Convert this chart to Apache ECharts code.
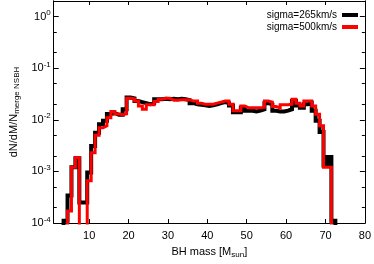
<!DOCTYPE html>
<html>
<head>
<meta charset="utf-8">
<script src="https://cdn.jsdelivr.net/npm/echarts@6/dist/echarts.min.js"></script>
<style>
html,body{margin:0;padding:0;background:#fff;}
#chart{width:374px;height:264px;}
</style>
</head>
<body>
<div id="chart"></div>
<script>
// Bin centers (BH mass, Msun), bin width 1
const massBins = [3,4,5,6,7,8,9,10,11,12,13,14,15,16,17,18,19,20,21,22,23,24,25,26,27,28,29,30,31,32,33,34,35,36,37,38,39,40,41,42,43,44,45,46,47,48,49,50,51,52,53,54,55,56,57,58,59,60,61,62,63,64,65,66,67,68,69,70,71,72,73];
// sigma = 265 km/s (black)
const sigma265 = [0,1.1e-4,3.4e-4,1.2e-3,1.8e-3,2.5e-4,2.5e-4,9.5e-4,3.1e-3,5.6e-3,8.2e-3,9.6e-3,1.3e-2,1.35e-2,1.25e-2,1.25e-2,1.6e-2,2.7e-2,2.6e-2,2.3e-2,2.2e-2,2.1e-2,2.0e-2,2.1e-2,2.5e-2,2.5e-2,2.55e-2,2.5e-2,2.55e-2,2.5e-2,2.55e-2,2.5e-2,2.4e-2,2.1e-2,2.0e-2,1.95e-2,1.9e-2,1.85e-2,1.9e-2,2.0e-2,2.1e-2,2.2e-2,2.1e-2,1.9e-2,1.4e-2,1.4e-2,1.7e-2,1.5e-2,1.5e-2,1.45e-2,1.5e-2,1.6e-2,2.1e-2,2.0e-2,1.5e-2,1.45e-2,1.45e-2,1.5e-2,1.6e-2,2.3e-2,1.9e-2,1.7e-2,2.0e-2,2.1e-2,1.5e-2,9.6e-3,5.8e-3,1.3e-3,1.9e-3,1.1e-4,0];
// sigma = 500 km/s (red)
const sigma500 = [0,0,1.7e-4,1.2e-3,1.85e-3,0,0,6.6e-4,2.3e-3,5.0e-3,7.0e-3,7.6e-3,1.1e-2,1.45e-2,1.3e-2,1.25e-2,1.3e-2,2.6e-2,2.55e-2,2.3e-2,1.85e-2,1.6e-2,1.95e-2,1.95e-2,2.25e-2,2.5e-2,2.6e-2,2.6e-2,2.4e-2,2.4e-2,2.45e-2,2.45e-2,2.45e-2,2.3e-2,2.3e-2,2.1e-2,2.0e-2,2.0e-2,2.0e-2,2.1e-2,2.2e-2,2.3e-2,2.3e-2,2.0e-2,1.5e-2,1.5e-2,1.85e-2,1.7e-2,1.7e-2,1.7e-2,1.7e-2,1.75e-2,2.3e-2,2.2e-2,1.8e-2,1.7e-2,1.95e-2,1.95e-2,2.0e-2,2.5e-2,2.1e-2,1.85e-2,2.3e-2,2.3e-2,1.85e-2,1.28e-2,7.7e-3,1.2e-3,1.2e-3,0,0];
const seriesNames = ['sigma=265km/s','sigma=500km/s'];
const xTicks = [10,20,30,40,50,60,70,80];
const yMajorTicks = [1e-4,1e-3,1e-2,1e-1,1];
const yMinorTicks = [2e-4,5e-4,2e-3,5e-3,2e-2,5e-2,0.2,0.5,2];

const FLOOR = 1e-7; // empty bins drop below the axis (clipped)
function stepPoints(vals){
  const pts = [];
  massBins.forEach((m,i)=>{
    const v = vals[i] > 0 ? vals[i] : FLOOR;
    pts.push([m-0.5, v],[m+0.5, v]);
  });
  return pts;
}
function expLabel(v){
  const e = Math.round(Math.log10(v));
  return '{b|10}{s|' + e + '}';
}
const font = 'Liberation Sans, Arial, Helvetica, sans-serif';
const axisLineStyle = {color:'#000', width:1};
const yBase = {type:'log', min:1e-4, max:2, logBase:10, splitLine:{show:false}, axisLine:{show:true, lineStyle:axisLineStyle}};

const chart = echarts.init(document.getElementById('chart'), null, {renderer:'canvas'});
chart.setOption({
  animation:false,
  backgroundColor:'#fff',
  textStyle:{fontFamily:font},
  grid:{left:37, right:5, top:1, bottom:34, containLabel:false},
  legend:{
    orient:'vertical', right:11, top:5, align:'right', itemGap:2,
    itemWidth:16, itemHeight:4, icon:'rect',
    textStyle:{fontSize:10, color:'#000', fontFamily:font},
    data:seriesNames
  },
  xAxis:[
    {type:'value', min:1, max:80, position:'bottom',
     axisLine:{show:true, onZero:false, lineStyle:axisLineStyle},
     axisTick:{show:true, inside:true, length:4, customValues:xTicks, lineStyle:axisLineStyle},
     axisLabel:{customValues:xTicks, fontSize:11, color:'#000', margin:7, fontFamily:font},
     splitLine:{show:false},
     name:'{a|BH mass [M}{b|sun}{a|]}', nameLocation:'middle', nameGap:22,
     nameTextStyle:{color:'#000', fontFamily:font, rich:{a:{fontSize:11, color:'#000'}, b:{fontSize:8, color:'#000', padding:[6,0,0,0]}}}
    },
    {type:'value', min:1, max:80, position:'top',
     axisLine:{show:true, onZero:false, lineStyle:axisLineStyle},
     axisTick:{show:true, inside:true, length:4, customValues:xTicks, lineStyle:axisLineStyle},
     axisLabel:{show:false}, splitLine:{show:false}}
  ],
  yAxis:[
    Object.assign({}, yBase, {position:'left',
      axisTick:{show:true, inside:true, length:5, customValues:yMajorTicks, lineStyle:axisLineStyle},
      axisLabel:{customValues:yMajorTicks, formatter:expLabel, margin:3, color:'#000',
        rich:{b:{fontSize:11, color:'#000', fontFamily:font}, s:{fontSize:8, color:'#000', fontFamily:font, padding:[0,0,7,0]}}},
      name:'{a|dN/dM/N}{b|merge NSBH}', nameLocation:'middle', nameGap:26, nameRotate:90,
      nameTextStyle:{color:'#000', fontFamily:font, rich:{a:{fontSize:11, color:'#000'}, b:{fontSize:8, color:'#000', padding:[6,0,0,0]}}}
    }),
    Object.assign({}, yBase, {position:'right',
      axisTick:{show:true, inside:true, length:5, customValues:yMajorTicks, lineStyle:axisLineStyle},
      axisLabel:{show:false}}),
    Object.assign({}, yBase, {position:'left',
      axisTick:{show:true, inside:true, length:3, customValues:yMinorTicks, lineStyle:axisLineStyle},
      axisLabel:{show:false}}),
    Object.assign({}, yBase, {position:'right',
      axisTick:{show:true, inside:true, length:3, customValues:yMinorTicks, lineStyle:axisLineStyle},
      axisLabel:{show:false}})
  ],
  series:[
    {name:seriesNames[0], type:'line', xAxisIndex:0, yAxisIndex:0, data:stepPoints(sigma265),
     showSymbol:false, symbol:'none', clip:true, color:'#000',
     lineStyle:{color:'#000', width:4, join:'miter', cap:'square'}},
    {name:seriesNames[1], type:'line', xAxisIndex:0, yAxisIndex:0, data:stepPoints(sigma500),
     showSymbol:false, symbol:'none', clip:true, color:'#ff0000',
     lineStyle:{color:'#ff0000', width:3, join:'miter', cap:'butt'}}
  ]
});
</script>
</body>
</html>
